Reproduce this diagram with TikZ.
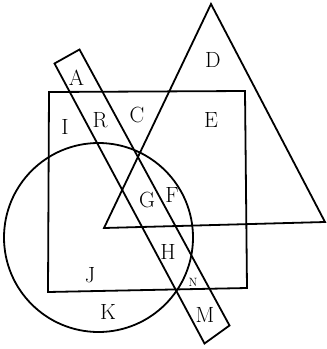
\documentclass[tikz,border=0pt]{standalone}
\begin{document}
\begin{tikzpicture}[
    x=1pt, y=-1pt,
    trazo/.style={line width=1.8pt, line join=miter},
    letra/.style={font=\fontsize{22}{22}\selectfont, inner sep=0pt},
    letrita/.style={font=\fontsize{12}{12}\selectfont, inner sep=0pt}
  ]
  % el lienzo: 327 x 349 unidades, con y hacia abajo como en la imagen
  \useasboundingbox (0,0) rectangle (327,349);

  % --- cuadrado ---
  \draw[trazo] (49,92) -- (245,91) -- (247,288) -- (48,292) -- cycle;
  % --- triángulo ---
  \draw[trazo] (211,4) -- (325,222) -- (104,228) -- cycle;
  % --- círculo ---
  \draw[trazo] (98.5,237.5) circle[radius=94.5];
  % --- franja inclinada ---
  \draw[trazo] (54.5,63.5) -- (79.5,49.5) -- (229.5,325.5) -- (204.5,343.5) -- cycle;

  % --- letras de las regiones ---
  \foreach \nom/\px/\py in {A/76.5/78, D/213/60, I/65/127, R/100/120,
      C/137/115, E/211/120, G/147/200, F/172/195, H/168/252,
      J/90/275, K/108/312, M/205/315}{
    \node[letra] (reg\nom) at (\px,\py) {\nom};
  }
  \node[letrita] (regN) at (193,282) {N};
\end{tikzpicture}
\end{document}
